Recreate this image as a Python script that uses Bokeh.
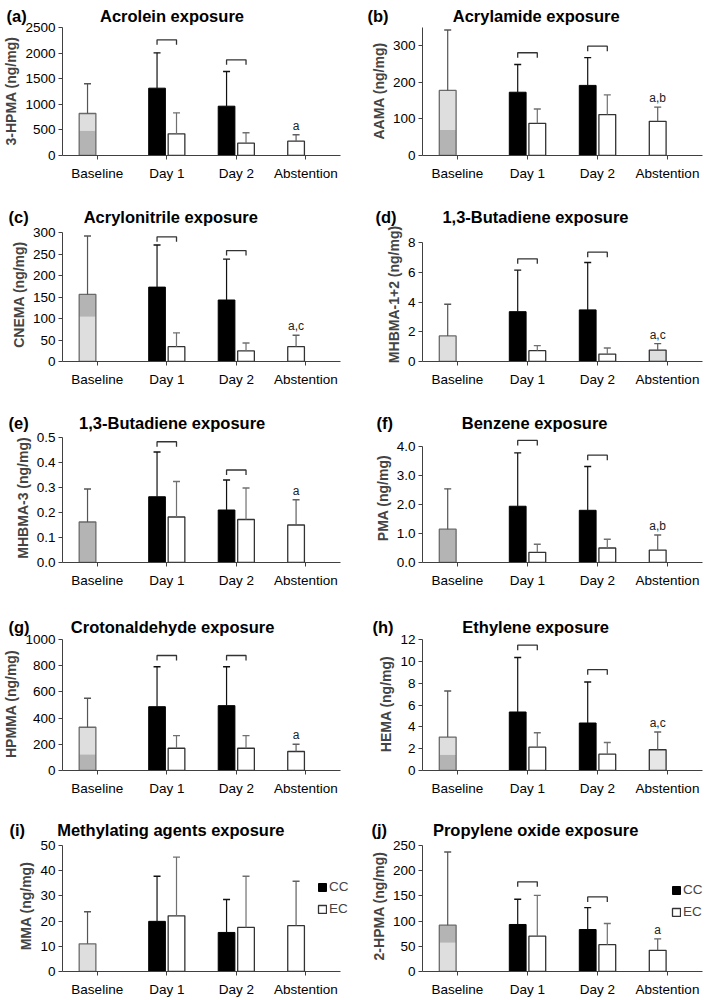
import numpy as np
from bokeh.plotting import figure
from bokeh.layouts import gridplot
from bokeh.models import Range1d, FixedTicker, NumeralTickFormatter, Label, Legend, LegendItem, Title
from bokeh.embed import file_html
from bokeh.resources import INLINE

# ---------------- data ----------------
categories = ["Baseline", "Day 1", "Day 2", "Abstention"]
panel_letters = ["(a)", "(b)", "(c)", "(d)", "(e)", "(f)", "(g)", "(h)", "(i)", "(j)"]
titles = ["Acrolein exposure", "Acrylamide exposure", "Acrylonitrile exposure",
          "1,3-Butadiene exposure", "1,3-Butadiene exposure", "Benzene exposure",
          "Crotonaldehyde exposure", "Ethylene exposure",
          "Methylating agents exposure", "Propylene oxide exposure"]
y_labels = ["3-HPMA (ng/mg)", "AAMA (ng/mg)", "CNEMA (ng/mg)", "MHBMA-1+2 (ng/mg)",
            "MHBMA-3 (ng/mg)", "PMA (ng/mg)", "HPMMA (ng/mg)", "HEMA (ng/mg)",
            "MMA (ng/mg)", "2-HPMA (ng/mg)"]
y_axis_max = [2500, 350, 300, 8, 0.5, 4.0, 1000, 12, 50, 250]
y_tick_max = [2500, 300, 300, 8, 0.5, 4.0, 1000, 12, 50, 250]
y_tick_step = [500, 100, 50, 2, 0.1, 1.0, 200, 2, 10, 50]
y_decimals = [0, 0, 0, 0, 1, 1, 0, 0, 0, 0]

baseline_mean = [820, 178, 156, 1.72, 0.162, 1.15, 330, 3.06, 11.0, 92]
baseline_lower = [490, 70, 104, 1.72, 0.162, 1.15, 124, 1.47, 11.0, 57]
baseline_sd = [580, 165, 136, 2.13, 0.132, 1.39, 221, 4.22, 12.7, 145]
day1_cc = [1315, 173, 173, 3.35, 0.263, 1.94, 487, 5.36, 19.9, 93.3]
day1_cc_sd = [690, 76, 98, 2.79, 0.179, 1.84, 305, 4.99, 17.9, 50]
day1_ec = [423, 88, 34.4, 0.73, 0.182, 0.35, 170, 2.14, 22.1, 70]
day1_ec_sd = [410, 39, 32.2, 0.34, 0.142, 0.28, 96, 1.32, 23.3, 81]
day2_cc = [963, 191.7, 143, 3.47, 0.210, 1.80, 495, 4.35, 15.5, 83.3]
day2_cc_sd = [677, 76, 95, 3.19, 0.120, 1.51, 297, 3.76, 13.1, 43.4]
day2_ec = [241, 112, 24.5, 0.50, 0.172, 0.50, 170, 1.50, 17.5, 53.3]
day2_ec_sd = [202, 53.7, 18.4, 0.41, 0.126, 0.30, 96, 1.07, 20.3, 42]
abst = [280, 93.5, 34.4, 0.77, 0.150, 0.43, 145, 1.90, 18.2, 42]
abst_sd = [124, 38.9, 26.8, 0.43, 0.101, 0.52, 55, 1.62, 17.6, 22.7]
abst_letters = ["a", "a,b", "a,c", "a,c", "a", "a,b", "a", "a,c", "", "a"]
bracket_day1 = [2260, 281, 290, 6.9, 0.483, 4.21, 878, 11.48, None, 178]
bracket_day2 = [1869, 299, 258, 7.35, 0.370, 3.70, 878, 9.24, None, 148]
legend_labels = ["CC", "EC"]

# ---------------- styles / layout ----------------
DARK = "#b4b4b4"
LIGHT = "#dedede"
baseline_lower_fill = [DARK, DARK, LIGHT, LIGHT, DARK, DARK, DARK, DARK, LIGHT, LIGHT]
baseline_upper_fill = [LIGHT, LIGHT, DARK, LIGHT, DARK, DARK, LIGHT, LIGHT, LIGHT, DARK]
abst_fill = ["white", "white", "white", LIGHT, "white", "white", "white", "#e6e6e6", "white", "white"]
FONT = "Liberation Sans"
W = 354
row_heights = [193, 202, 203, 207, 194]
row_title_y = [14, 24.5, 28, 29, 25]
row_frame_bottom = [155, 168, 167, 172, 166]
TITLE_GAP = 10
axis_top_px = [27, 27, 39, 49, 42, 51, 41, 41, 40, 40]
col_frame_left = [60, 68]
col_axis_end = [340, 348]
col_frame_right = [350, 352]
letter_x = [4, 13, 6, 21, 6, 22, 6, 18, 7, 17]
title_pad = [16, 14, 12, 10, 11, 15, 9, 15, 7, 10]
legend_pos = {8: (255, 55), 9: (249, 52)}
OFF = 0.14
BW = 0.24


def make_panel(i):
    col, row = i % 2, i // 2
    H = row_heights[row]
    L, A, R = col_frame_left[col], col_axis_end[col], col_frame_right[col]
    fb = row_frame_bottom[row]
    row_axis_top = min(axis_top_px[2 * row], axis_top_px[2 * row + 1])
    ft = int(min(max(round(row_title_y[row] + TITLE_GAP), 26), row_axis_top - 1))
    ppu = (fb - axis_top_px[i]) / y_axis_max[i]
    ytop = (fb - ft) / ppu
    fh = fb - ft
    cat_px = (A - L) / 4.0
    x_end = 3.5 + (R - A) / cat_px

    p = figure(width=W, height=H, x_range=Range1d(-0.5, x_end), y_range=Range1d(0, ytop),
               output_backend="svg", toolbar_location=None, title=None,
               min_border_left=L, min_border_right=W - R,
               min_border_top=ft, min_border_bottom=H - fb)
    p.outline_line_color = None
    p.xgrid.visible = False
    p.ygrid.visible = False

    # baseline bar (two-tone)
    bx = 0 - OFF
    p.vbar(x=[bx], bottom=[0], top=[baseline_lower[i]], width=BW,
           fill_color=baseline_lower_fill[i], line_color=None)
    if baseline_mean[i] > baseline_lower[i]:
        p.vbar(x=[bx], bottom=[baseline_lower[i]], top=[baseline_mean[i]], width=BW,
               fill_color=baseline_upper_fill[i], line_color=None)
    p.vbar(x=[bx], bottom=[0], top=[baseline_mean[i]], width=BW,
           fill_color=None, line_color="#6a6a6a", line_width=1.3)

    # CC / EC bars
    cc = p.vbar(x=[1 - OFF, 2 - OFF], bottom=0, top=[day1_cc[i], day2_cc[i]], width=BW,
                fill_color="black", line_color="black", line_width=1)
    ec = p.vbar(x=[1 + OFF, 2 + OFF], bottom=0, top=[day1_ec[i], day2_ec[i]], width=BW,
                fill_color="white", line_color="#333333", line_width=1.3)
    p.vbar(x=[3 - OFF], bottom=0, top=[abst[i]], width=BW,
           fill_color=abst_fill[i], line_color="#333333", line_width=1.3)

    # error bars
    groups = [
        ([bx], [baseline_mean[i]], [baseline_sd[i]], "#555555"),
        ([1 - OFF, 2 - OFF], [day1_cc[i], day2_cc[i]], [day1_cc_sd[i], day2_cc_sd[i]], "#111111"),
        ([1 + OFF, 2 + OFF], [day1_ec[i], day2_ec[i]], [day1_ec_sd[i], day2_ec_sd[i]], "#707070"),
        ([3 - OFF], [abst[i]], [abst_sd[i]], "#606060"),
    ]
    for xs, ms, sds, colr in groups:
        tops = [m + s for m, s in zip(ms, sds)]
        p.segment(x0=xs, y0=ms, x1=xs, y1=tops, line_color=colr, line_width=1.2)
        p.scatter(x=xs, y=tops, marker="dash", size=7, line_color=colr, line_width=1.4)

    # brackets
    drop = 5.0 / fh * ytop
    for k, yb in ((1, bracket_day1[i]), (2, bracket_day2[i])):
        if yb is None:
            continue
        p.line(x=[k - OFF, k - OFF, k + OFF, k + OFF], y=[yb - drop, yb, yb, yb - drop],
               line_color="#333333", line_width=1.3)

    # significance letters
    if abst_letters[i]:
        p.add_layout(Label(x=3 - OFF, y=abst[i] + abst_sd[i], y_offset=2, text=abst_letters[i],
                           text_align="center", text_baseline="bottom",
                           text_font=FONT, text_font_size="12px", text_color="#222222"))

    # panel letter + title
    title_text = panel_letters[i] + "\u00a0" * title_pad[i] + titles[i]
    p.add_layout(Title(text=title_text, align="left", offset=letter_x[i] - L,
                       standoff=4, text_font=FONT, text_font_size="16.5px",
                       text_font_style="bold", text_color="black"), "above")

    # axes
    step = y_tick_step[i]
    ticks = [round(v, 6) for v in np.arange(0, y_tick_max[i] + step * 0.5, step)]
    p.yaxis.ticker = FixedTicker(ticks=ticks)
    p.yaxis.formatter = NumeralTickFormatter(format="0.0" if y_decimals[i] else "0")
    p.yaxis.bounds = (0, y_axis_max[i])
    p.yaxis.axis_label = y_labels[i]
    p.yaxis.axis_label_text_font = FONT
    p.yaxis.axis_label_text_font_size = "14px"
    p.yaxis.axis_label_text_font_style = "bold"
    p.yaxis.axis_label_standoff = 3
    p.yaxis.major_label_standoff = 3
    p.yaxis.major_label_text_font = FONT
    p.yaxis.major_label_text_font_size = "13.5px"
    p.yaxis.major_label_text_color = "black"
    p.yaxis.major_tick_out = 4
    p.yaxis.major_tick_in = 0
    p.yaxis.minor_tick_line_color = None
    p.yaxis.axis_line_color = "#404040"
    p.yaxis.major_tick_line_color = "#404040"

    p.xaxis.ticker = FixedTicker(ticks=[0, 1, 2, 3])
    p.xaxis.major_label_overrides = {k: c for k, c in enumerate(categories)}
    p.xaxis.bounds = (-0.5, 3.5)
    p.xaxis.major_label_text_font = FONT
    p.xaxis.major_label_text_font_size = "13.5px"
    p.xaxis.major_label_text_color = "black"
    p.xaxis.major_label_standoff = 6
    p.xaxis.major_tick_out = 4
    p.xaxis.major_tick_in = 0
    p.xaxis.minor_tick_line_color = None
    p.xaxis.axis_line_color = "#404040"
    p.xaxis.major_tick_line_color = "#404040"

    if i in legend_pos:
        leg = Legend(items=[LegendItem(label=legend_labels[0], renderers=[cc]),
                            LegendItem(label=legend_labels[1], renderers=[ec])],
                     location=legend_pos[i], orientation="vertical",
                     glyph_width=10, glyph_height=10, label_height=12, label_width=18,
                     label_standoff=2, spacing=7, padding=0, margin=0,
                     border_line_color=None, background_fill_alpha=0,
                     label_text_font=FONT, label_text_font_size="13.5px")
        p.add_layout(leg)
    return p


figs = [make_panel(i) for i in range(10)]
grid = gridplot([[figs[0], figs[1]], [figs[2], figs[3]], [figs[4], figs[5]],
                 [figs[6], figs[7]], [figs[8], figs[9]]], toolbar_location=None)

open("out.html", "w").write(file_html(grid, INLINE))
